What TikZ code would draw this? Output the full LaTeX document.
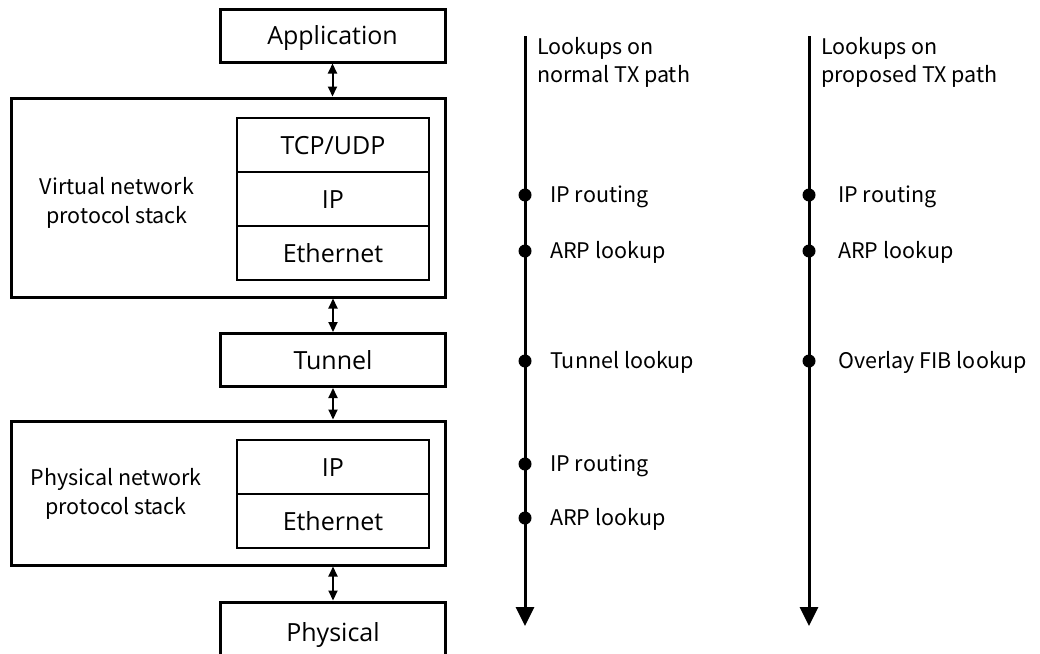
\documentclass[tikz,border=0pt]{standalone}
\usepackage{fontspec}
\setmainfont{Open Sans}
\newfontfamily\jpfont{Noto Sans CJK JP}
\usetikzlibrary{arrows.meta}
\begin{document}
\begin{tikzpicture}[x=1pt,y=-1pt,
  layerbox/.style={draw, line width=3pt, inner sep=0pt, minimum width=225pt,
    minimum height=53pt, text height=21pt, text depth=3pt,
    font=\fontsize{25}{28}\selectfont},
  stackbox/.style={draw, line width=3pt, inner sep=0pt, minimum width=434pt},
  cell/.style={draw, line width=2pt, inner sep=0pt, minimum width=192pt,
    minimum height=54pt, text height=21pt, text depth=3pt,
    font=\fontsize{25}{28}\selectfont},
  link/.style={line width=2pt, {Triangle[width=9pt,length=10pt]}-{Triangle[width=9pt,length=10pt]}},
  txpath/.style={line width=3pt, -{Triangle[width=18pt,length=19pt]}},
  dot/.style={circle, fill=black, inner sep=0pt, minimum size=13pt},
  lbl/.style={anchor=west, inner sep=0pt, text height=17pt, text depth=2pt,
    font=\jpfont\fontsize{21.5}{28}\selectfont},
  head/.style={anchor=west, inner sep=0pt, align=left, font=\jpfont\fontsize{21.5}{28}\selectfont},
  side/.style={inner sep=0pt, align=center, font=\jpfont\fontsize{21.5}{29}\selectfont}]
\useasboundingbox (0,0) rectangle (1040,653);
\clip (0,0) rectangle (1040,653);

% protocol layers
\node[layerbox] (app) at (332.5,35.5) {Application};

\node[stackbox, minimum height=199pt] (virt) at (228,197.5) {};
\node[cell] (vtcp) at (333,145) {TCP/UDP};
\node[cell] (vip) at (333,199) {IP};
\node[cell] (veth) at (333,253) {Ethernet};
\node[side] (vlabel) at (117,203) {Virtual network\\protocol stack};

\node[layerbox] (tun) at (333,360) {Tunnel};

\node[stackbox, minimum height=144pt] (phys) at (228,493) {};
\node[cell] (pip) at (333,467) {IP};
\node[cell] (peth) at (333,521) {Ethernet};
\node[side] (plabel) at (116,494) {Physical network\\protocol stack};

\node[layerbox, minimum height=60pt] (phy) at (333,632) {Physical};

% vertical links between the layers
\draw[link] (app.south) -- (app.south |- virt.north);
\draw[link] (tun.north |- virt.south) -- (tun.north);
\draw[link] (tun.south) -- (tun.south |- phys.north);
\draw[link] (phy.north |- phys.south) -- (phy.north);

% lookups on the normal TX path
\coordinate (ntop) at (525,36);
\coordinate (nend) at (525,626);
\draw[txpath] (ntop) -- (nend);
\node[head] (nhead) at (537,62) {Lookups on\\normal TX path};
\node[dot] (n1) at (525,195) {};
\node[dot] (n2) at (525,251) {};
\node[dot] (n3) at (525,361) {};
\node[dot] (n4) at (525,464) {};
\node[dot] (n5) at (525,518) {};
\node[lbl] (n1t) at (550,195) {IP routing};
\node[lbl] (n2t) at (550,251) {ARP lookup};
\node[lbl] (n3t) at (550,361) {Tunnel lookup};
\node[lbl] (n4t) at (550,464) {IP routing};
\node[lbl] (n5t) at (550,518) {ARP lookup};

% lookups on the proposed TX path
\coordinate (ptop) at (809,36);
\coordinate (pend) at (809,626);
\draw[txpath] (ptop) -- (pend);
\node[head] (phead) at (821,62) {Lookups on\\proposed TX path};
\node[dot] (q1) at (809,195) {};
\node[dot] (q2) at (809,251) {};
\node[dot] (q3) at (809,361) {};
\node[lbl] (q1t) at (838,195) {IP routing};
\node[lbl] (q2t) at (838,251) {ARP lookup};
\node[lbl] (q3t) at (838,361) {Overlay FIB lookup};
\end{tikzpicture}
\end{document}
